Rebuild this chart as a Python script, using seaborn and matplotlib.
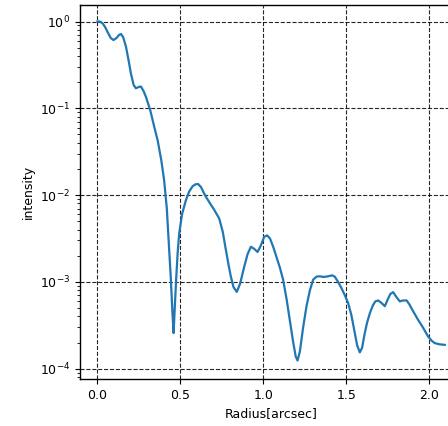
import numpy as np
import pandas as pd
import matplotlib
matplotlib.use("Agg")
import matplotlib.pyplot as plt
import seaborn as sns

radius = [0.000, 0.015, 0.031, 0.045, 0.061, 0.080, 0.097, 0.115, 0.130, 0.142,
          0.155, 0.172, 0.188, 0.202, 0.218, 0.232, 0.248, 0.262, 0.278, 0.292,
          0.318, 0.342, 0.363, 0.385, 0.402, 0.418, 0.430, 0.442, 0.452, 0.459,
          0.466, 0.475, 0.484, 0.493, 0.510, 0.533, 0.553, 0.573, 0.590, 0.607,
          0.625, 0.640, 0.654, 0.680, 0.704, 0.734, 0.755, 0.774, 0.790, 0.804,
          0.820, 0.840, 0.860, 0.884, 0.905, 0.925, 0.945, 0.965, 0.985, 1.005,
          1.023, 1.040, 1.060, 1.080, 1.100, 1.119, 1.140, 1.160, 1.180, 1.195,
          1.206, 1.220, 1.240, 1.260, 1.280, 1.300, 1.320, 1.340, 1.360, 1.380,
          1.400, 1.414, 1.430, 1.450, 1.470, 1.490, 1.511, 1.530, 1.550, 1.565,
          1.581, 1.595, 1.610, 1.625, 1.642, 1.660, 1.675, 1.692, 1.710, 1.732,
          1.750, 1.765, 1.782, 1.800, 1.822, 1.840, 1.863, 1.880, 1.900, 1.932,
          1.960, 1.993, 2.015, 2.033, 2.060, 2.093]

intensity = [1.0, 1.0, 0.955, 0.871, 0.759, 0.646, 0.612, 0.646, 0.700, 0.718,
             0.661, 0.513, 0.355, 0.251, 0.186, 0.170, 0.176, 0.178, 0.158, 0.136,
             0.0955, 0.0617, 0.0427, 0.0251, 0.0148, 0.00708, 0.00282, 0.00112, 0.000447, 0.000257,
             0.000501, 0.00112, 0.00224, 0.00363, 0.00603, 0.00871, 0.0110, 0.0126, 0.0133, 0.0134,
             0.0123, 0.0107, 0.00955, 0.00794, 0.00676, 0.00537, 0.00380, 0.00234, 0.00158, 0.00115,
             0.000871, 0.000767, 0.000955, 0.00148, 0.00209, 0.00254, 0.00240, 0.00221, 0.00263, 0.00331,
             0.00343, 0.00316, 0.00251, 0.00191, 0.00145, 0.00106, 0.000631, 0.000355, 0.000200, 0.000138,
             0.000124, 0.000158, 0.000302, 0.000525, 0.000794, 0.00106, 0.00115, 0.00116, 0.00114, 0.00115,
             0.00117, 0.00119, 0.00115, 0.00100, 0.000851, 0.000708, 0.000569, 0.000417, 0.000263, 0.000186,
             0.000154, 0.000174, 0.000251, 0.000339, 0.000437, 0.000537, 0.000596, 0.000611, 0.000575, 0.000525,
             0.000631, 0.000724, 0.000762, 0.000676, 0.000596, 0.000610, 0.000611, 0.000550, 0.000468, 0.000366,
             0.000302, 0.000234, 0.000209, 0.000197, 0.000191, 0.000188]

x_ticks = [0.0, 0.5, 1.0, 1.5, 2.0]
x_tick_labels = ["0.0", "0.5", "1.0", "1.5", "2.0"]

df = pd.DataFrame({"Radius[arcsec]": radius, "intensity": intensity})

plt.rcParams["font.family"] = ["DejaVu Sans"]
plt.rcParams["font.size"] = 9

fig = plt.figure(figsize=(4.48, 4.26), dpi=100)
ax = fig.add_axes([80 / 448, 47 / 426, (462.5 - 80) / 448, 374 / 426])

sns.lineplot(data=df, x="Radius[arcsec]", y="intensity", ax=ax,
             color="#1f77b4", linewidth=1.6)

ax.set_yscale("log")
ax.set_xlim(-0.105, 2.2)
ax.set_ylim(7.6e-5, 1.55)
ax.set_xticks(x_ticks)
ax.set_xticklabels(x_tick_labels)
ax.grid(True, which="major", linestyle="--", color="black", linewidth=0.8, alpha=0.85)
ax.set_xlabel("Radius[arcsec]")
ax.set_ylabel("intensity")
for s in ax.spines.values():
    s.set_color("black")
    s.set_linewidth(1.0)

fig.savefig("out.png", dpi=100)
